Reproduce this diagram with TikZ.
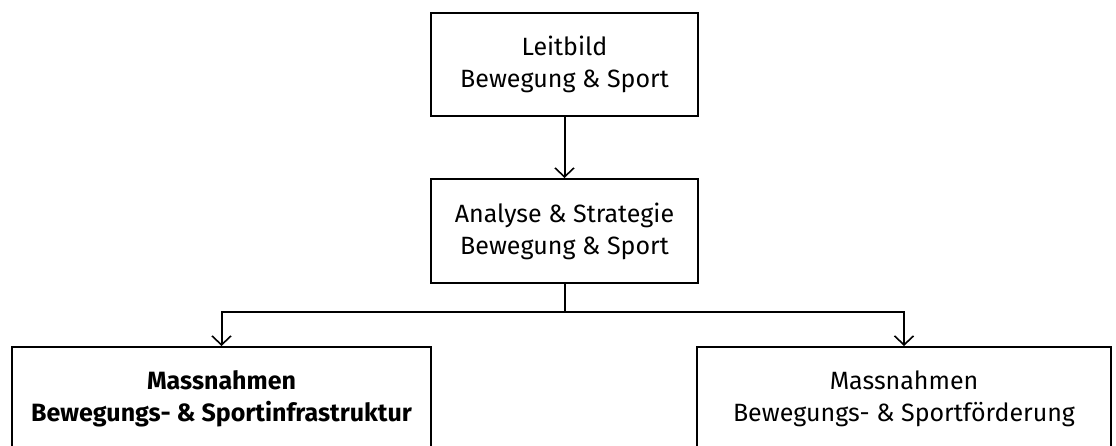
\documentclass[tikz,border=0pt]{standalone}
\usepackage{fontspec}
\setmainfont{Fira Sans}
\usetikzlibrary{arrows.meta, positioning}

\begin{document}
\begin{tikzpicture}[x=1pt, y=-1pt, line width=2pt,
    box/.style={draw, rectangle, align=center, inner sep=0pt,
        font=\fontsize{25}{32}\selectfont},
    pfeil/.style={-{Straight Barb[length=9pt, width=19pt, line width=1.6pt]}}]

    \useasboundingbox (0,0) rectangle (1116,445);

    \node [box, minimum width=267pt, minimum height=103pt] (leitbild) at (564.5, 64.5) {Leitbild\\Bewegung \& Sport};
    \node [box, minimum width=267pt, minimum height=104pt] (analyse) at (564.5, 231) {Analyse \& Strategie\\Bewegung \& Sport};
    \node [box, minimum width=419pt, minimum height=104pt, font=\fontsize{25}{32}\selectfont\bfseries] (infra) at (221.5, 399) {Massnahmen\\Bewegungs- \& Sportinfrastruktur};
    \node [box, minimum width=414pt, minimum height=104pt] (foerderung) at (904, 399) {Massnahmen\\Bewegungs- \& Sportförderung};
    \coordinate (gabel) at (564.5, 312);

 \draw[pfeil] (leitbild) -- (analyse);
 \draw (analyse) -- (gabel);
 \draw[pfeil] (gabel) -| (infra.north);
 \draw[pfeil] (gabel) -| (foerderung.north);
                        \end{tikzpicture}
\end{document}
